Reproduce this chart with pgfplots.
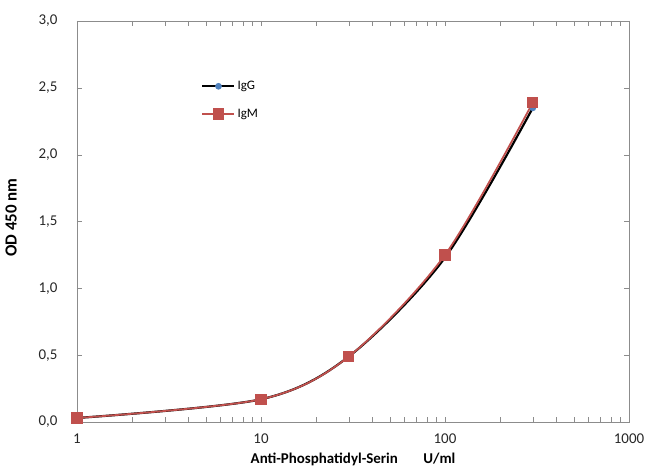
\documentclass[border=0pt]{standalone}
\usepackage{pgfplots}
\pgfplotsset{compat=1.18}
\usepackage{fontspec}
\setmainfont{Carlito}
\definecolor{igmred}{HTML}{C0504D}
\definecolor{iggblue}{HTML}{4F81BD}
\definecolor{frame}{HTML}{8C8C8C}

\begin{document}
\begin{tikzpicture}[x=1bp,y=1bp]
  \begin{axis}[
    scale only axis,
    width=552bp,
    height=401bp,
    xmode=log,
    log basis x=10,
    xmin=1, xmax=1000,
    ymin=0, ymax=3,
    xtick={1,10,100,1000},
    xticklabels={1,10,100,1000},
    minor xtick={2,3,...,9,20,30,...,90,200,300,...,900},
    ytick={0,0.5,...,3},
    tick align=inside,
    tick style={frame},
    major tick length=5bp,
    minor tick length=5bp,
    axis line style={frame, line width=1pt},
    yticklabel style={/pgf/number format/fixed, /pgf/number format/fixed zerofill,
      /pgf/number format/precision=1, /pgf/number format/use comma, xshift=-16bp},
    /pgf/number format/assume math mode=true,
    ticklabel style={font=\fontsize{15}{17}\selectfont, text=black!85},
    xticklabel style={yshift=-8bp},
    xlabel={\textbf{Anti-Phosphatidyl-Serin\hspace{1.7em}U/ml}},
    ylabel={\textbf{OD 450 nm}},
    label style={font=\fontsize{17}{19}\selectfont},
    xlabel style={font=\fontsize{15}{17}\selectfont, yshift=-3bp},
    ylabel style={at={(ticklabel cs:0.51)}, yshift=15bp},
    legend style={draw=none, fill=none, at={(0.225,0.855)}, anchor=north west,
      font=\fontsize{13}{15}\selectfont, row sep=14bp, inner sep=0pt},
    legend cell align=left,
    legend image code/.code={
      \draw[mark repeat=2, mark phase=2] plot coordinates {(0bp,0bp) (16bp,0bp) (32bp,0bp)};
    },
  ]
    \addplot[black, line width=2.2pt, smooth, mark=*, mark size=2.2pt,
      mark options={fill=iggblue, draw=iggblue}]
      coordinates {(1,0.03) (10,0.17) (30,0.49) (100,1.23) (300,2.35)};
    \addlegendentry{IgG}
    \addplot[igmred, line width=1.8pt, smooth, mark=square*, mark size=4.8bp,
      mark options={fill=igmred}]
      coordinates {(1,0.03) (10,0.17) (30,0.49) (100,1.25) (300,2.39)};
    \addlegendentry{IgM}
    \coordinate (ll) at (rel axis cs:0,0);
    \coordinate (ur) at (rel axis cs:1,1);
  \end{axis}
  \path (ll) ++(-77bp,-44bp) coordinate (bbll);
  \path (ur) ++(20bp,21bp) coordinate (bbur);
  \useasboundingbox (bbll) rectangle (bbur);
\end{tikzpicture}
\end{document}
